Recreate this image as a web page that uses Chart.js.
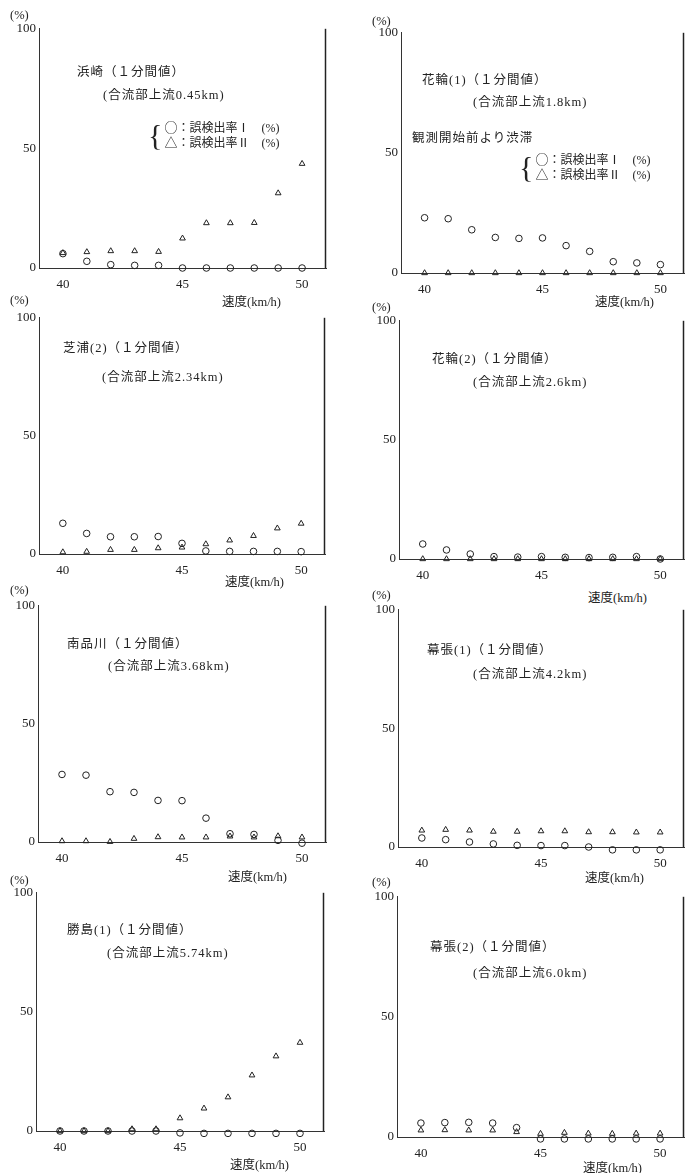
<!DOCTYPE html>
<html>
<head>
<meta charset="utf-8">
<script src="https://cdn.jsdelivr.net/npm/chart.js@4.4.1/dist/chart.umd.min.js"></script>
<style>
	html, body { margin: 0; padding: 0; background: #fff; }
	#page { position: relative; width: 689px; height: 1173px; overflow: hidden; }
	#page canvas { position: absolute; }
	.lbl { position: absolute; white-space: nowrap; color: #222;
		font-family: "Liberation Serif", "Noto Sans CJK JP", serif; font-size: 12.5px; line-height: 14px; }
	.sp { letter-spacing: 1px; }
	.legend { position: absolute; display: flex; align-items: center; color: #222;
		font-family: "Liberation Serif", "Noto Sans CJK JP", serif; font-size: 12px; }
	.legend .brace { font-size: 30px; line-height: 30px; margin-right: 2px; font-weight: 200; }
	.legend .rows div { line-height: 13px; white-space: nowrap; }
	.legend .sym { font-family: "Noto Sans CJK JP", sans-serif; font-size: 13px; }
</style>
</head>
<body>
<div id="page"></div>
<script>
"use strict";

// speed classes (km/h) on the x axis
var speeds = [40, 41, 42, 43, 44, 45, 46, 47, 48, 49, 50];
var xTicks = [40, 45, 50];
var yTicks = [0, 50, 100];

// 誤検出率Ⅰ (circles) / 誤検出率Ⅱ (triangles), in %
var hamazakiI   = [6.0, 2.8, 1.4, 1.1, 1.1, 0, 0, 0, 0, 0, 0];
var hamazakiII  = [6.3, 6.7, 7.1, 7.1, 6.8, 12.4, 18.8, 18.8, 18.9, 31.3, 43.6];
var hanawa1I    = [23.0, 22.6, 18.0, 14.8, 14.4, 14.6, 11.4, 9.0, 4.7, 4.2, 3.5];
var hanawa1II   = [0, 0, 0, 0, 0, 0, 0, 0, 0, 0, 0];
var shibaura2I  = [13.0, 8.7, 7.3, 7.3, 7.4, 4.5, 1.3, 1.1, 1.1, 1.1, 1.0];
var shibaura2II = [0.8, 1.0, 1.8, 1.8, 2.5, 2.8, 4.2, 5.8, 7.7, 10.9, 12.9];
var hanawa2I    = [6.3, 3.8, 2.1, 1.0, 0.8, 1.0, 0.7, 0.6, 0.7, 1.0, 0];
var hanawa2II   = [0, 0, 0, 0, 0, 0, 0, 0, 0, 0, 0];
var minamiI     = [28.6, 28.3, 21.3, 21.0, 17.6, 17.5, 10.1, 3.5, 3.2, 0.7, -0.5];
var minamiII    = [0.4, 0.4, 0.1, 1.4, 2.1, 2.0, 2.0, 2.4, 2.0, 2.5, 2.0];
var makuhari1I  = [3.8, 3.1, 2.1, 1.3, 0.7, 0.6, 0.6, 0, -1.2, -1.2, -1.2];
var makuhari1II = [7.0, 7.3, 7.0, 6.5, 6.5, 6.7, 6.7, 6.3, 6.3, 6.2, 6.2];
var katsushimaI = [0, 0, 0, 0, 0, -0.8, -1, -1, -1, -1, -1];
var katsushimaII= [0, 0, 0, 0.8, 0.8, 5.4, 9.5, 14.2, 23.4, 31.4, 37.1];
var makuhari2I  = [5.8, 6.0, 6.1, 5.8, 3.9, -0.8, -0.8, -0.8, -0.8, -0.8, -0.8];
var makuhari2II = [2.8, 2.9, 2.8, 2.8, 2.1, 1.4, 1.8, 1.5, 1.4, 1.5, 1.5];

var titles = ["浜崎（１分間値）", "花輪(1)（１分間値）", "芝浦(2)（１分間値）", "花輪(2)（１分間値）",
	"南品川（１分間値）", "幕張(1)（１分間値）", "勝島(1)（１分間値）", "幕張(2)（１分間値）"];
var subtitles = ["(合流部上流0.45km)", "(合流部上流1.8km)", "(合流部上流2.34km)", "(合流部上流2.6km)",
	"(合流部上流3.68km)", "(合流部上流4.2km)", "(合流部上流5.74km)", "(合流部上流6.0km)"];
var seriesI  = [hamazakiI, hanawa1I, shibaura2I, hanawa2I, minamiI, makuhari1I, katsushimaI, makuhari2I];
var seriesII = [hamazakiII, hanawa1II, shibaura2II, hanawa2II, minamiII, makuhari1II, katsushimaII, makuhari2II];

// panel layout: plot area [left, top, right, bottom] and text anchors [x, centerY]
var panels = [
	{ area: [39, 28, 329, 268],   title: [77, 72],   sub: [103, 95],  pct: [10, 15],  speed: [222, 302],  legend: [148, 135] },
	{ area: [401, 32, 687, 273],  title: [422, 80],  sub: [473, 102], pct: [372, 21], speed: [595, 302],  legend: [519, 167], note: [412, 138] },
	{ area: [39, 317, 328, 554],  title: [63, 348],  sub: [102, 377], pct: [10, 300], speed: [225, 582] },
	{ area: [399, 320, 687, 559], title: [432, 359], sub: [473, 382], pct: [372, 307], speed: [588, 598] },
	{ area: [38, 605, 329, 842],  title: [67, 644],  sub: [108, 666], pct: [10, 590], speed: [228, 877] },
	{ area: [398, 609, 687, 847], title: [427, 650], sub: [473, 674], pct: [372, 595], speed: [585, 878] },
	{ area: [36, 892, 327, 1131], title: [67, 930],  sub: [107, 953], pct: [10, 880], speed: [230, 1165] },
	{ area: [397, 896, 687, 1137],title: [430, 947], sub: [473, 973], pct: [372, 882], speed: [583, 1168] }
];

var padL = 36, padT = 10, padR = 2, padB = 28;
var ink = "#222";
var page = document.getElementById("page");

// right-hand vertical frame line
var frameLine = {
	id: "frameLine",
	afterDraw: function(chart) {
		var a = chart.chartArea, ctx = chart.ctx;
		ctx.save();
		ctx.strokeStyle = ink;
		ctx.lineWidth = 1.5;
		ctx.beginPath();
		ctx.moveTo(a.right - 0.5, a.top);
		ctx.lineTo(a.right - 0.5, a.bottom);
		ctx.stroke();
		ctx.restore();
	}
};

function addLabel(text, pos, cls) {
	var d = document.createElement("div");
	d.className = "lbl" + (cls ? " " + cls : "");
	d.textContent = text;
	d.style.left = pos[0] + "px";
	d.style.top = (pos[1] - 7) + "px";
	page.appendChild(d);
}

function addLegend(pos) {
	var d = document.createElement("div");
	d.className = "legend";
	d.style.left = pos[0] + "px";
	d.style.top = (pos[1] - 15) + "px";
	d.innerHTML = '<span class="brace">{</span><div class="rows">' +
		'<div><span class="sym">○</span>：誤検出率Ⅰ　(%)</div>' +
		'<div><span class="sym">△</span>：誤検出率Ⅱ　(%)</div></div>';
	page.appendChild(d);
}

function toPoints(values) {
	return speeds.map(function(s, i) { return { x: s, y: values[i] }; });
}

panels.forEach(function(p, idx) {
	var a = p.area;
	var canvas = document.createElement("canvas");
	var w = (a[2] - a[0]) + padL + padR;
	var h = (a[3] - a[1]) + padT + padB;
	canvas.width = w;
	canvas.height = h;
	canvas.style.left = (a[0] - padL) + "px";
	canvas.style.top = (a[1] - padT) + "px";
	canvas.style.width = w + "px";
	canvas.style.height = h + "px";
	page.appendChild(canvas);

	new Chart(canvas.getContext("2d"), {
		type: "scatter",
		data: {
			datasets: [{
				label: "誤検出率Ⅰ",
				data: toPoints(seriesI[idx]),
				pointStyle: "circle",
				pointRadius: 3.3,
				borderColor: ink,
				backgroundColor: "rgba(0,0,0,0)",
				borderWidth: 1,
				clip: false
			}, {
				label: "誤検出率Ⅱ",
				data: toPoints(seriesII[idx]),
				pointStyle: "triangle",
				pointRadius: 3.3,
				borderColor: ink,
				backgroundColor: "rgba(0,0,0,0)",
				borderWidth: 1,
				clip: false
			}]
		},
		options: {
			responsive: false,
			animation: false,
			events: [],
			layout: { padding: { top: padT, right: padR, left: 0, bottom: 0 } },
			plugins: { legend: { display: false }, tooltip: { enabled: false } },
			scales: {
				x: {
					type: "linear", min: 39, max: 51,
					afterFit: function(scale) { scale.height = padB; },
					afterBuildTicks: function(scale) { scale.ticks = xTicks.map(function(v) { return { value: v }; }); },
					grid: { display: false, drawTicks: false },
					border: { display: true, color: "#333", width: 1 },
					ticks: { color: ink, padding: 9, maxRotation: 0,
						font: { family: "'Liberation Serif', serif", size: 13 } }
				},
				y: {
					type: "linear", min: 0, max: 100,
					afterFit: function(scale) { scale.width = padL; },
					afterBuildTicks: function(scale) { scale.ticks = yTicks.map(function(v) { return { value: v }; }); },
					grid: { display: false, drawTicks: false },
					border: { display: true, color: "#333", width: 1 },
					ticks: { color: ink, padding: 3,
						font: { family: "'Liberation Serif', serif", size: 13 } }
				}
			}
		},
		plugins: [frameLine]
	});

	addLabel(titles[idx], p.title, "sp");
	addLabel(subtitles[idx], p.sub, "sp");
	addLabel("(%)", p.pct);
	addLabel("速度(km/h)", p.speed);
	if (p.note) addLabel("観測開始前より渋滞", p.note, "sp");
	if (p.legend) addLegend(p.legend);
});
</script>
</body>
</html>
